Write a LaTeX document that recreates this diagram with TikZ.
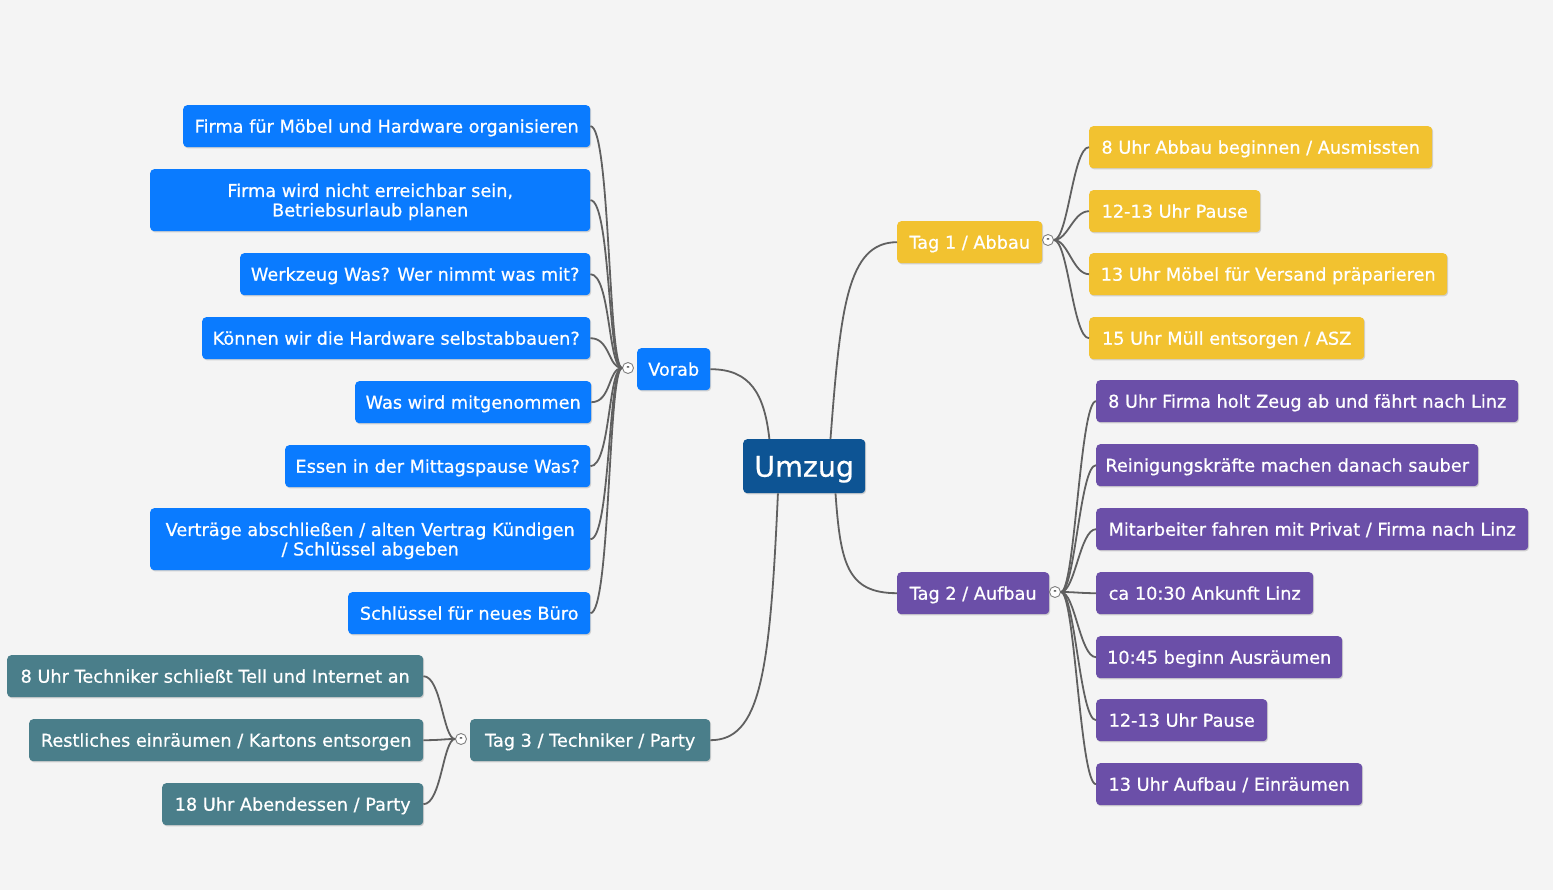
\documentclass[tikz,border=0pt]{standalone}
\usepackage{fontspec}
\setmainfont{DejaVu Sans}[FakeBold=0.6]
\usetikzlibrary{shadows}
\definecolor{bgcol}{HTML}{F4F4F4}
\definecolor{rootcol}{HTML}{0D5494}
\definecolor{bluecol}{HTML}{0A7BFF}
\definecolor{yellowcol}{HTML}{F2C230}
\definecolor{purplecol}{HTML}{6B4FA8}
\definecolor{tealcol}{HTML}{4A7E8A}
\definecolor{linecol}{HTML}{606060}

\begin{document}
\begin{tikzpicture}[x=1pt,y=-1pt,
  topic/.style={rounded corners=4pt, text=white, inner sep=0pt, align=center, anchor=north west,
    minimum height=42, font=\fontsize{17.7}{19.5}\selectfont, text height=13pt, text depth=0pt,
    drop shadow={shadow xshift=1pt, shadow yshift=-1.2pt, opacity=0.3}},
  twoline/.style={minimum height=62, text height=32.5pt, text depth=0pt},
  rootbox/.style={topic, fill=rootcol, font=\fontsize{28.5}{30}\selectfont, text height=21pt},
  bluebox/.style={topic, fill=bluecol},
  yellowbox/.style={topic, fill=yellowcol},
  purplebox/.style={topic, fill=purplecol},
  tealbox/.style={topic, fill=tealcol},
  hub/.style={circle, draw=linecol!80, fill=white, line width=0.9, minimum size=11, inner sep=0pt,
    text=black, font=\fontsize{8}{8}\selectfont},
  conn/.style={draw=linecol, line width=1.8}]

\fill[bgcol] (0,0) rectangle (1553,890);
\useasboundingbox (0,0) rectangle (1553,890);

% centre
\node[rootbox, minimum width=122, minimum height=54] (umzug) at (743,439) {Umzug};

% Vorab
\node[bluebox, minimum width=73] (vorab) at (637,348) {Vorab};
\node[hub] (hv) at (628,368) {-};
\node[bluebox, minimum width=407] (v1) at (183,105) {Firma für Möbel und Hardware organisieren};
\node[bluebox, twoline, minimum width=440] (v2) at (150,169) {Firma wird nicht erreichbar sein,\\Betriebsurlaub planen};
\node[bluebox, minimum width=350] (v3) at (240,253) {Werkzeug Was? Wer nimmt was mit?};
\node[bluebox, minimum width=388] (v4) at (202,317) {Können wir die Hardware selbstabbauen?};
\node[bluebox, minimum width=236] (v5) at (355,381) {Was wird mitgenommen};
\node[bluebox, minimum width=305] (v6) at (285,445) {Essen in der Mittagspause Was?};
\node[bluebox, twoline, minimum width=440] (v7) at (150,508) {Verträge abschließen / alten Vertrag Kündigen\\/ Schlüssel abgeben};
\node[bluebox, minimum width=242] (v8) at (348,592) {Schlüssel für neues Büro};

% Tag 1
\node[yellowbox, minimum width=145] (tag1) at (897,221) {Tag 1 / Abbau};
\node[hub] (h1) at (1048,240) {-};
\node[yellowbox, minimum width=343] (a1) at (1089,126) {8 Uhr Abbau beginnen / Ausmissten};
\node[yellowbox, minimum width=171] (a2) at (1089,190) {12-13 Uhr Pause};
\node[yellowbox, minimum width=358] (a3) at (1089,253) {13 Uhr Möbel für Versand präparieren};
\node[yellowbox, minimum width=275] (a4) at (1089,317) {15 Uhr Müll entsorgen / ASZ};

% Tag 2
\node[purplebox, minimum width=152] (tag2) at (897,572) {Tag 2 / Aufbau};
\node[hub] (h2) at (1055,592) {-};
\node[purplebox, minimum width=422] (b1) at (1096,380) {8 Uhr Firma holt Zeug ab und fährt nach Linz};
\node[purplebox, minimum width=382] (b2) at (1096,444) {Reinigungskräfte machen danach sauber};
\node[purplebox, minimum width=432] (b3) at (1096,508) {Mitarbeiter fahren mit Privat / Firma nach Linz};
\node[purplebox, minimum width=217] (b4) at (1096,572) {ca 10:30 Ankunft Linz};
\node[purplebox, minimum width=246] (b5) at (1096,636) {10:45 beginn Ausräumen};
\node[purplebox, minimum width=171] (b6) at (1096,699) {12-13 Uhr Pause};
\node[purplebox, minimum width=266] (b7) at (1096,763) {13 Uhr Aufbau / Einräumen};

% Tag 3
\node[tealbox, minimum width=240] (tag3) at (470,719) {Tag 3 / Techniker / Party};
\node[hub] (h3) at (461,739) {-};
\node[tealbox, minimum width=416] (c1) at (7,655) {8 Uhr Techniker schließt Tell und Internet an};
\node[tealbox, minimum width=394] (c2) at (29,719) {Restliches einräumen / Kartons entsorgen};
\node[tealbox, minimum width=261] (c3) at (162,783) {18 Uhr Abendessen / Party};

% main branches
\draw[conn] (umzug.46) .. controls +(10,-130) and +(-50,0) .. (tag1.west);
\draw[conn] (umzug.142) .. controls +(-5,-45) and +(40,0) .. (vorab.east);
\draw[conn] (umzug.-41) .. controls +(5,70) and +(-50,0) .. (tag2.west);
\draw[conn] (umzug.-134) .. controls +(-8,180) and +(50,0) .. (tag3.east);

% sub branches
\foreach \n in {v1,v2,v3,v4,v5,v6,v7,v8}
  \draw[conn] (\n.east) .. controls +(20,0) and +(-14,0) .. (hv.west);
\foreach \n in {a1,a2,a3,a4}
  \draw[conn] (h1.east) .. controls +(14,0) and +(-16,0) .. (\n.west);
\foreach \n in {b1,b2,b3,b4,b5,b6,b7}
  \draw[conn] (h2.east) .. controls +(14,0) and +(-16,0) .. (\n.west);
\foreach \n in {c1,c2,c3}
  \draw[conn] (\n.east) .. controls +(18,0) and +(-12,0) .. (h3.west);
\end{tikzpicture}
\end{document}
